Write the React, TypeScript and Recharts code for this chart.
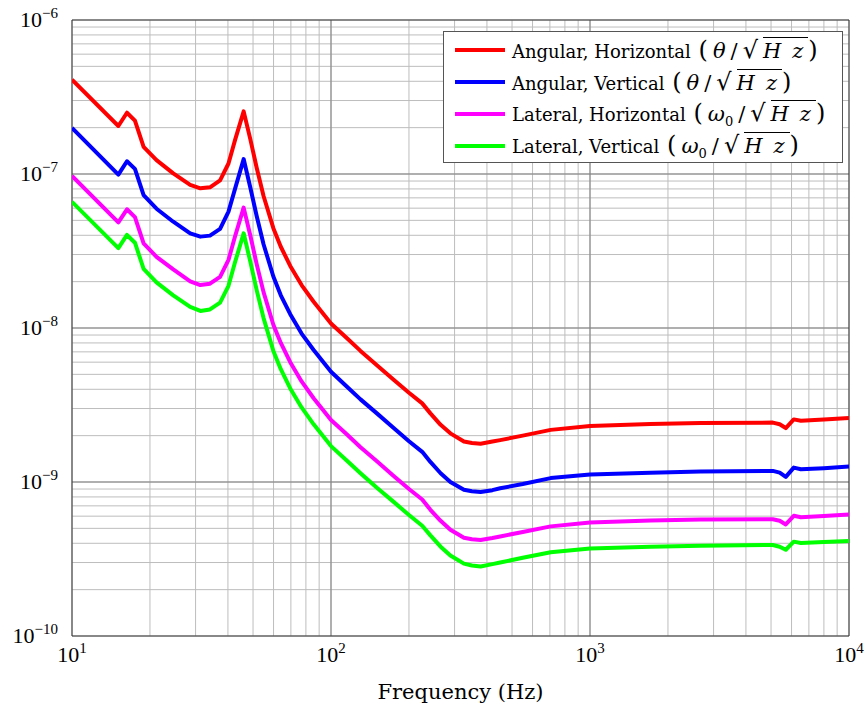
import { LineChart, Line, XAxis, YAxis, CartesianGrid, ReferenceLine } from "recharts"

// frequency in Hz, shared by all four series
const freqs = [
  10, 15.1, 16.3, 17.5, 18.9,
  21.2, 24.6, 28.6, 31.3, 34.1, 37.3, 40.2, 42.6,
  46, 48.7, 51.7, 54.9, 59.9, 64, 69.6, 77, 85.7,
  100, 115, 130, 150, 175, 200,
  225, 242, 265, 289, 326, 350, 378, 420,
  450, 550, 705, 1000, 1713, 2673,
  5080, 5400, 5700, 6120, 6520, 8000, 10000,
]

const angularHorizontal = [
  4.1e-7, 2.05e-7, 2.5e-7, 2.22e-7, 1.5e-7,
  1.23e-7, 1.01e-7, 8.5e-8, 8.07e-8, 8.2e-8, 9.1e-8, 1.17e-7, 1.66e-7,
  2.55e-7, 1.71e-7, 1.09e-7, 7.2e-8, 4.45e-8, 3.37e-8, 2.53e-8, 1.9e-8, 1.48e-8,
  1.07e-8, 8.6e-9, 7.1e-9, 5.76e-9, 4.6e-9, 3.8e-9,
  3.24e-9, 2.79e-9, 2.35e-9, 2.07e-9, 1.83e-9, 1.79e-9, 1.77e-9, 1.83e-9,
  1.87e-9, 2.0e-9, 2.18e-9, 2.31e-9, 2.38e-9, 2.42e-9,
  2.43e-9, 2.37e-9, 2.24e-9, 2.55e-9, 2.5e-9, 2.55e-9, 2.6e-9,
]

const angularVertical = [
  1.99e-7, 9.9e-8, 1.21e-7, 1.08e-7, 7.3e-8,
  5.95e-8, 4.9e-8, 4.12e-8, 3.92e-8, 3.98e-8, 4.4e-8, 5.7e-8, 8.0e-8,
  1.25e-7, 8.3e-8, 5.3e-8, 3.5e-8, 2.16e-8, 1.63e-8, 1.23e-8, 9.2e-9, 7.2e-9,
  5.2e-9, 4.17e-9, 3.44e-9, 2.8e-9, 2.23e-9, 1.84e-9,
  1.57e-9, 1.35e-9, 1.14e-9, 1.0e-9, 8.9e-10, 8.7e-10, 8.6e-10, 8.85e-10,
  9.1e-10, 9.7e-10, 1.06e-9, 1.12e-9, 1.15e-9, 1.17e-9,
  1.18e-9, 1.15e-9, 1.08e-9, 1.24e-9, 1.21e-9, 1.23e-9, 1.26e-9,
]

const lateralHorizontal = [
  9.7e-8, 4.85e-8, 5.9e-8, 5.25e-8, 3.55e-8,
  2.9e-8, 2.4e-8, 2.01e-8, 1.9e-8, 1.94e-8, 2.15e-8, 2.77e-8, 3.93e-8,
  6.05e-8, 4.05e-8, 2.58e-8, 1.71e-8, 1.05e-8, 8.0e-9, 6.0e-9, 4.5e-9, 3.5e-9,
  2.53e-9, 2.04e-9, 1.68e-9, 1.37e-9, 1.09e-9, 9.0e-10,
  7.7e-10, 6.6e-10, 5.6e-10, 4.9e-10, 4.35e-10, 4.25e-10, 4.2e-10, 4.33e-10,
  4.43e-10, 4.74e-10, 5.15e-10, 5.45e-10, 5.62e-10, 5.7e-10,
  5.73e-10, 5.6e-10, 5.3e-10, 6.03e-10, 5.9e-10, 6.02e-10, 6.15e-10,
]

const lateralVertical = [
  6.6e-8, 3.3e-8, 4.02e-8, 3.58e-8, 2.42e-8,
  1.98e-8, 1.63e-8, 1.37e-8, 1.29e-8, 1.32e-8, 1.46e-8, 1.88e-8, 2.67e-8,
  4.12e-8, 2.74e-8, 1.75e-8, 1.16e-8, 7.1e-9, 5.4e-9, 4.05e-9, 3.05e-9, 2.37e-9,
  1.71e-9, 1.38e-9, 1.14e-9, 9.2e-10, 7.4e-10, 6.1e-10,
  5.2e-10, 4.5e-10, 3.8e-10, 3.33e-10, 2.95e-10, 2.87e-10, 2.83e-10, 2.93e-10,
  3.0e-10, 3.22e-10, 3.5e-10, 3.7e-10, 3.8e-10, 3.86e-10,
  3.9e-10, 3.8e-10, 3.63e-10, 4.1e-10, 4.02e-10, 4.08e-10, 4.14e-10,
]

const xDecades = [10, 100, 1000, 10000]
const yDecades = [1e-10, 1e-9, 1e-8, 1e-7, 1e-6]
const minorSteps = [1, 2, 3, 4, 5, 6, 7, 8, 9]

const withMinors = (decades: number[]) =>
  decades.slice(0, -1).flatMap((d) => minorSteps.map((m) => d * m)).concat(decades[decades.length - 1])

const xTicks = withMinors(xDecades)
const yTicks = withMinors(yDecades)

const series = [
  { key: "angH", label: "Angular, Horizontal", unit: "theta", color: "#ff0000", values: angularHorizontal },
  { key: "angV", label: "Angular, Vertical", unit: "theta", color: "#0000ff", values: angularVertical },
  { key: "latH", label: "Lateral, Horizontal", unit: "omega", color: "#ff00ff", values: lateralHorizontal },
  { key: "latV", label: "Lateral, Vertical", unit: "omega", color: "#00ff00", values: lateralVertical },
]

const data = freqs.map((f, i) => {
  const row: Record<string, number> = { f }
  series.forEach((s) => (row[s.key] = s.values[i]))
  return row
})

const serif = "'Liberation Serif', 'DejaVu Serif', serif"
const wideSerif = "'DejaVu Serif', 'Liberation Serif', serif"

const isDecade = (v: number) => Math.abs(Math.log10(v) - Math.round(Math.log10(v))) < 1e-6
const expText = (v: number) => {
  const e = Math.round(Math.log10(v))
  return e < 0 ? "\u2212" + -e : String(e)
}

const XTick = (props: any) => {
  const { x, y, payload } = props
  if (!isDecade(payload.value)) return <g />
  return (
    <text x={x} y={y + 18} textAnchor="middle" fontFamily={serif} fontSize={22} fill="#000">
      <tspan>10</tspan>
      <tspan dy={-9} fontSize={15}>{expText(payload.value)}</tspan>
    </text>
  )
}

const YTick = (props: any) => {
  const { x, y, payload } = props
  if (!isDecade(payload.value)) return <g />
  return (
    <text x={x - 6} y={y + 7} textAnchor="end" fontFamily={serif} fontSize={22} fill="#000">
      <tspan>10</tspan>
      <tspan dy={-9} fontSize={15}>{expText(payload.value)}</tspan>
    </text>
  )
}

const big = { fontSize: 24 }

const Unit = ({ kind }: { kind: string }) => (
  <span style={{ fontSize: 21, letterSpacing: 5, marginLeft: 2 }}>
    <span style={big}>(</span>
    {kind === "theta" ? (
      <i>θ</i>
    ) : (
      <span>
        <i style={{ letterSpacing: 0 }}>ω</i>
        <sub style={{ fontSize: 13 }}>0</sub>
      </span>
    )}
    /<span style={big}>√</span>
    <span style={{ borderTop: "1px solid #000", paddingTop: 1 }}>
      <i style={{ marginRight: 6 }}>H</i>
      <i>z</i>
    </span>
    <span style={big}>)</span>
  </span>
)

export default function App() {
  return (
    <div style={{ position: "absolute", left: 0, top: 0, width: 867, height: 711, background: "#fff" }}>
      <LineChart width={867} height={711} data={data} margin={{ top: 20, right: 18, left: 0, bottom: 0 }}>
        <CartesianGrid stroke="#bdbdbd" strokeWidth={1} />
        <XAxis
          dataKey="f"
          type="number"
          scale="log"
          domain={[10, 10000]}
          ticks={xTicks}
          interval={0}
          tick={<XTick />}
          tickLine={false}
          axisLine={false}
          height={75}
          allowDataOverflow
          label={{ value: "Frequency (Hz)", position: "insideBottom", offset: 12, fontSize: 21, fill: "#000", fontFamily: wideSerif }}
        />
        <YAxis
          type="number"
          scale="log"
          domain={[1e-10, 1e-6]}
          ticks={yTicks}
          interval={0}
          tick={<YTick />}
          tickLine={false}
          axisLine={false}
          width={72}
          allowDataOverflow
        />
        {xDecades.slice(1, -1).map((d) => (
          <ReferenceLine key={"x" + d} x={d} stroke="#808080" />
        ))}
        {yDecades.slice(1, -1).map((d) => (
          <ReferenceLine key={"y" + d} y={d} stroke="#808080" />
        ))}
        <ReferenceLine x={10} stroke="#333" />
        <ReferenceLine x={10000} stroke="#333" />
        <ReferenceLine y={1e-6} stroke="#333" />
        <ReferenceLine y={1e-10} stroke="#333" />
        {series.map((s) => (
          <Line
            key={s.key}
            dataKey={s.key}
            type="linear"
            stroke={s.color}
            strokeWidth={4}
            strokeLinejoin="round"
            dot={false}
            isAnimationActive={false}
          />
        ))}
      </LineChart>

      <div
        style={{
          position: "absolute",
          left: 443,
          top: 31,
          width: 400,
          height: 132,
          border: "1px solid #555",
          background: "#fff",
          boxSizing: "border-box",
          fontFamily: wideSerif,
          fontSize: 18,
          color: "#000",
          paddingTop: 2,
        }}
      >
        {series.map((s) => (
          <div key={s.key} style={{ display: "flex", alignItems: "center", height: 32, whiteSpace: "nowrap" }}>
            <div style={{ width: 50, height: 4, background: s.color, marginLeft: 11, marginRight: 7 }} />
            <span>
              {s.label} <Unit kind={s.unit} />
            </span>
          </div>
        ))}
      </div>
    </div>
  )
}
